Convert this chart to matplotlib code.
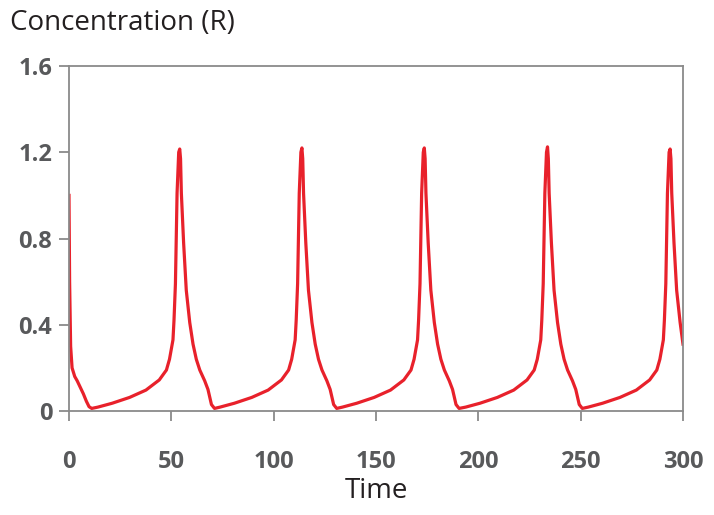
import matplotlib
matplotlib.use('Agg')
import matplotlib.pyplot as plt

plt.rcParams['font.family'] = ['Open Sans', 'DejaVu Sans']

# time points
time = [0, 0.3, 0.8, 1.5, 2.8, 4.0, 5.5, 7.0, 8.5, 9.8, 11.1,
        14.1, 21.1, 29.6, 37.6, 44.1, 47.6, 49.1, 50.8, 51.3, 52.0, 52.8, 53.6, 54.1,
        54.5, 54.9, 56.0, 57.3, 59.0, 60.6, 62.2, 63.9, 66.3, 67.9, 69.6, 71.1,
        73.8, 80.8, 89.3, 97.3, 103.8, 107.3, 108.8, 110.5, 111.0, 111.7, 112.5, 113.3, 113.8,
        114.2, 114.6, 115.7, 117.0, 118.7, 120.3, 121.9, 123.6, 126.0, 127.6, 129.3, 130.8,
        133.6, 140.6, 149.1, 157.1, 163.6, 167.1, 168.6, 170.3, 170.8, 171.5, 172.3, 173.1, 173.6,
        174.0, 174.4, 175.5, 176.8, 178.5, 180.1, 181.7, 183.4, 185.8, 187.4, 189.1, 190.6,
        193.8, 200.8, 209.3, 217.3, 223.8, 227.3, 228.8, 230.5, 231.0, 231.7, 232.5, 233.3, 233.8,
        234.2, 234.6, 235.7, 237.0, 238.7, 240.3, 241.9, 243.6, 246.0, 247.6, 249.3, 250.8,
        253.7, 260.7, 269.2, 277.2, 283.7, 287.2, 288.7, 290.4, 290.9, 291.6, 292.4, 293.2, 293.7,
        294.1, 294.5, 295.6, 296.9, 298.6, 300.0]

# concentration R
conc = [1.0, 0.6, 0.3, 0.2, 0.16, 0.14, 0.11, 0.08, 0.045, 0.02, 0.012,
        0.018, 0.036, 0.063, 0.097, 0.144, 0.19, 0.24, 0.33, 0.42, 0.59, 1.01, 1.2, 1.215,
        1.17, 1.01, 0.78, 0.56, 0.41, 0.31, 0.24, 0.19, 0.14, 0.10, 0.03, 0.012,
        0.018, 0.036, 0.063, 0.097, 0.144, 0.19, 0.24, 0.33, 0.42, 0.59, 1.01, 1.2, 1.22,
        1.17, 1.01, 0.78, 0.56, 0.41, 0.31, 0.24, 0.19, 0.14, 0.10, 0.03, 0.012,
        0.018, 0.036, 0.063, 0.097, 0.144, 0.19, 0.24, 0.33, 0.42, 0.59, 1.01, 1.2, 1.22,
        1.17, 1.01, 0.78, 0.56, 0.41, 0.31, 0.24, 0.19, 0.14, 0.10, 0.03, 0.012,
        0.018, 0.036, 0.063, 0.097, 0.144, 0.19, 0.24, 0.33, 0.42, 0.59, 1.01, 1.2, 1.225,
        1.17, 1.01, 0.78, 0.56, 0.41, 0.31, 0.24, 0.19, 0.14, 0.10, 0.03, 0.012,
        0.018, 0.036, 0.063, 0.097, 0.144, 0.19, 0.24, 0.33, 0.42, 0.59, 1.01, 1.2, 1.215,
        1.17, 1.01, 0.78, 0.56, 0.41, 0.31]

xticks = [0, 50, 100, 150, 200, 250, 300]
yticks = [0, 0.4, 0.8, 1.2, 1.6]
ytick_labels = ['0', '0.4', '0.8', '1.2', '1.6']

fig = plt.figure(figsize=(7.14, 5.15), dpi=100)
ax = fig.add_axes([69/714, 1 - 411/515, 614/714, 345/515])

ax.plot(time, conc, color='#e8212b', linewidth=2.3, solid_joinstyle='round')

ax.set_xlim(0, 300)
ax.set_ylim(0, 1.6)
ax.set_xticks(xticks)
ax.set_yticks(yticks)
ax.set_yticklabels(ytick_labels)

for s in ax.spines.values():
    s.set_color('#8a8a8a')
    s.set_linewidth(1.3)

ax.tick_params(axis='both', direction='out', length=7, width=1.3, color='#8a8a8a',
               labelsize=17, labelcolor='#58595b')
ax.tick_params(axis='x', pad=21)
ax.tick_params(axis='y', pad=5)
for lab in ax.get_xticklabels() + ax.get_yticklabels():
    lab.set_fontweight('bold')

ax.set_xlabel('Time', fontsize=20, color='#231f20', labelpad=2)
fig.text(10/714, 1 - 23/515, 'Concentration (R)', fontsize=20, color='#231f20',
         ha='left', va='center')

fig.savefig('out.png', dpi=100)
